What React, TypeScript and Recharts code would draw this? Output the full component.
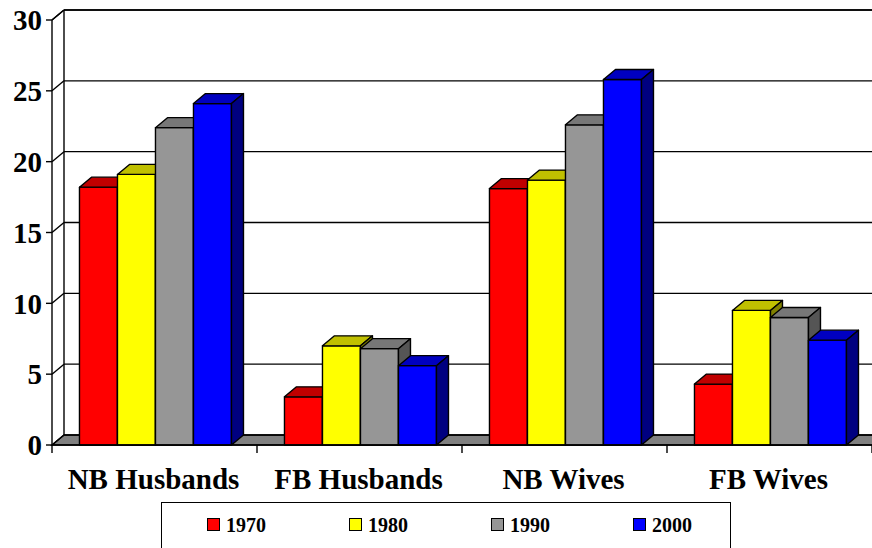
import { BarChart, Bar, XAxis, YAxis, CartesianGrid } from 'recharts';

const categories = ['NB Husbands', 'FB Husbands', 'NB Wives', 'FB Wives'];
const years = ['1970', '1980', '1990', '2000'];
const values1970 = [18.2, 3.4, 18.1, 4.3];
const values1980 = [19.1, 7.0, 18.7, 9.5];
const values1990 = [22.4, 6.8, 22.6, 9.0];
const values2000 = [24.1, 5.6, 25.8, 7.4];
const yTicks = [0, 5, 10, 15, 20, 25, 30];

// front / top / right-side shades for each year
const faceColors = ['#ff0000', '#ffff00', '#969696', '#0000ff'];
const topColors = ['#c00000', '#c0c000', '#777777', '#0000c0'];
const sideColors = ['#800000', '#808000', '#555555', '#000080'];

const DX = 12; // depth offset of the 3d box
const DY = -10;
const FONT = '"Liberation Serif", "Times New Roman", serif';

const data = categories.map((name, i) => ({
  name,
  y1970: values1970[i],
  y1980: values1980[i],
  y1990: values1990[i],
  y2000: values2000[i],
}));
const seriesKeys = ['y1970', 'y1980', 'y1990', 'y2000'];

const box = (i: number) => (props: any) => {
  const { x, y, width, height } = props;
  return (
    <g stroke="#000" strokeWidth={1.4} strokeLinejoin="round">
      <rect x={x} y={y} width={width} height={height} fill={faceColors[i]} />
      <polygon
        points={`${x},${y} ${x + width},${y} ${x + width + DX},${y + DY} ${x + DX},${y + DY}`}
        fill={topColors[i]}
      />
      <polygon
        points={`${x + width},${y} ${x + width + DX},${y + DY} ${x + width + DX},${y + height + DY} ${x + width},${y + height}`}
        fill={sideColors[i]}
      />
    </g>
  );
};

// back wall gridlines, left wall and floor
const wallLine = (props: any) => {
  const { x1, y1, x2, index, x, y, width, height } = props;
  const bottom = y + height;
  return (
    <g key={`wall-${index}`} stroke="#000" strokeWidth={1.4}>
      {index === 0 && (
        <g>
          <polygon
            points={`${x},${bottom} ${x + width},${bottom} ${x + width + DX},${bottom + DY} ${x + DX},${bottom + DY}`}
            fill="#808080"
          />
          <line x1={x} y1={y} x2={x + DX} y2={y + DY} />
          <line x1={x + DX} y1={y + DY} x2={x + width + DX} y2={y + DY} />
          <line x1={x + DX} y1={y + DY} x2={x + DX} y2={bottom + DY} />
          <line x1={x} y1={bottom} x2={x} y2={bottom + 8} />
        </g>
      )}
      <line x1={x1} y1={y1} x2={x1 + DX} y2={y1 + DY} />
      <line x1={x1 + DX} y1={y1 + DY} x2={x2 + DX} y2={y1 + DY} />
    </g>
  );
};

const CategoryTick = (props: any) => {
  const { x, y, payload } = props;
  const half = payload.offset ?? 0;
  return (
    <g>
      <line x1={x + half} y1={y} x2={x + half} y2={y + 8} stroke="#000" strokeWidth={1.4} />
      <text x={x - 1} y={y + 44} textAnchor="middle" fontFamily={FONT} fontSize={29} fontWeight="bold" fill="#000">
        {payload.value}
      </text>
    </g>
  );
};

export default function App() {
  return (
    <div style={{ position: 'absolute', left: 0, top: 0, width: 872, height: 548, background: '#fff', overflow: 'hidden' }}>
      <BarChart
        width={872}
        height={548}
        data={data}
        margin={{ top: 20, right: 0, bottom: 53, left: 0 }}
        barCategoryGap="13.4%"
        barGap={0}
      >
        <CartesianGrid vertical={false} horizontal={wallLine} />
        <XAxis
          dataKey="name"
          height={50}
          tickSize={0}
          tickMargin={0}
          tick={<CategoryTick />}
          axisLine={{ stroke: '#000', strokeWidth: 1.4 }}
          interval={0}
        />
        <YAxis
          width={52}
          domain={[0, 30]}
          ticks={yTicks}
          tickSize={6}
          tickMargin={4}
          axisLine={{ stroke: '#000', strokeWidth: 1.4 }}
          tickLine={{ stroke: '#000', strokeWidth: 1.4 }}
          tick={{ fontFamily: FONT, fontSize: 29, fontWeight: 'bold', fill: '#000' }}
        />
        {seriesKeys.map((key, i) => (
          <Bar key={key} dataKey={key} name={years[i]} fill={faceColors[i]} shape={box(i)} isAnimationActive={false} />
        ))}
      </BarChart>
      <div
        style={{
          position: 'absolute',
          left: 161,
          top: 502,
          width: 570,
          height: 60,
          border: '1.5px solid #000',
          boxSizing: 'border-box',
          background: '#fff',
          display: 'flex',
          alignItems: 'flex-start',
          paddingLeft: 45,
          paddingTop: 11.5,
        }}
      >
        {years.map((yr, i) => (
          <div key={yr} style={{ width: 142, flexShrink: 0, display: 'flex', alignItems: 'center' }}>
            <span
              style={{
                width: 13,
                height: 13,
                flexShrink: 0,
                background: faceColors[i],
                border: '1.5px solid #000',
                boxSizing: 'border-box',
                marginRight: 6,
              }}
            />
            <span style={{ fontFamily: FONT, fontWeight: 'bold', fontSize: 20, lineHeight: '20px' }}>{yr}</span>
          </div>
        ))}
      </div>
    </div>
  );
}
